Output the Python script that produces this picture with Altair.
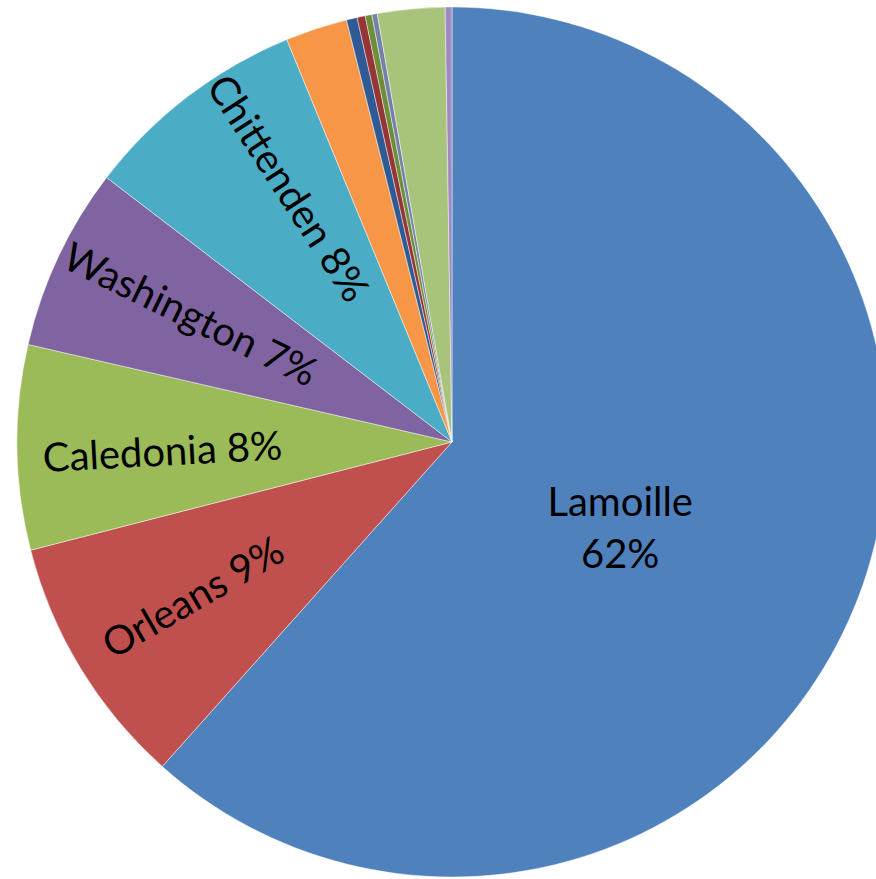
import altair as alt
import pandas as pd

# Slice values (percent of total), clockwise from 12 o'clock
counties = ["Lamoille", "Orleans", "Caledonia", "Washington", "Chittenden",
            "Franklin", "Essex", "Orange", "Addison", "Rutland", "Windsor", "Grand Isle"]
shares = [61.6, 9.4, 7.6, 6.8, 8.4, 2.3, 0.4, 0.3, 0.25, 0.2, 2.5, 0.25]
colors = ["#4F81BD", "#C0504D", "#9BBB59", "#8064A2", "#4BACC6", "#F79646",
          "#2F5A93", "#953535", "#6E8E3A", "#7482AA", "#A8C47B", "#9D89C4"]

# Labelled slices and their label placement (radius, dx, dy, angle)
label_style = {
    "Lamoille": (180, 0, -2, 0),
    "Orleans": (302, 0, 0, 330),
    "Caledonia": (290, 0, 8, 357),
    "Washington": (289, -2, -2, 26),
    "Chittenden": (298, -5, -22, 57),
}

df = pd.DataFrame({"county": counties, "share": shares, "idx": list(range(len(counties)))})
df["label"] = [
    (f"{c}\n{round(s)}%" if c == "Lamoille" else f"{c} {round(s)}%") if c in label_style else ""
    for c, s in zip(counties, shares)
]

CX, CY, R = 452, 442, 435

base = alt.Chart(df)

theta = alt.Theta("share:Q", stack=True)
order = alt.Order("idx:Q")

pie = base.mark_arc(radius=R, stroke="#ffffff", strokeWidth=1, strokeOpacity=0.45).encode(
    theta=theta,
    order=order,
    color=alt.Color("county:N", scale=alt.Scale(domain=counties, range=colors), legend=None),
    x=alt.value(CX),
    y=alt.value(CY),
)

layers = [pie]
for name, (r, dx, dy, ang) in label_style.items():
    layers.append(
        base.transform_calculate(t=f"datum.county == '{name}' ? datum.label : ''")
        .mark_text(radius=r, dx=dx, dy=dy, angle=ang, font="Lato", fontSize=40,
                   lineBreak="\n", lineHeight=52, color="#000000",
                   align="center", baseline="middle")
        .encode(theta=theta, order=order, text="t:N", x=alt.value(CX), y=alt.value(CY))
    )

chart = alt.layer(*layers).properties(
    width=876, height=879, padding=0, autosize=alt.AutoSizeParams(type="none"),
    background="#ffffff",
).configure_view(stroke=None)

chart.save("out.html", embed_options={"renderer": "svg", "actions": False})
